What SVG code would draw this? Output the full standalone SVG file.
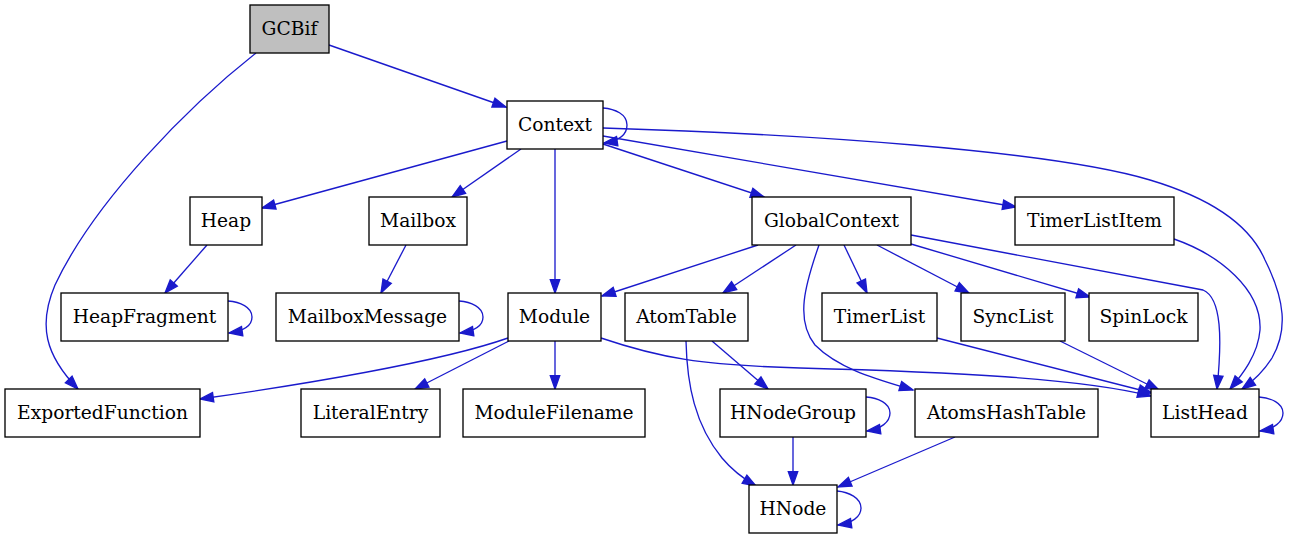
<svg xmlns="http://www.w3.org/2000/svg" width="1289" height="539" viewBox="0 0 1289 539">
<style>
.n rect{fill:#fff;stroke:#000;stroke-width:1.33}
.n text{font-family:"DejaVu Serif",serif;font-size:18.67px;text-anchor:middle;fill:#000}
.e path{fill:none;stroke:#1a1acc;stroke-width:1.33;marker-end:url(#ah)}
</style>
<defs>
<marker id="ah" markerUnits="userSpaceOnUse" markerWidth="16" markerHeight="12" refX="13.3" refY="4.7" orient="auto" overflow="visible">
<path d="M0,0 L13.3,4.7 L0,9.4 z" fill="#1a1acc" stroke="#1a1acc" stroke-width="1.33"/>
</marker>
</defs>
<rect width="1289" height="539" fill="#fff"/>
<g class="e" id="edges">
<path d="M329,45 L506,107"/>
<path d="M256,53 C190,105 95,200 55,285 C38,325 45,355 78,389"/>
<path d="M603,108 C615,109 627,114 627,125 C627,135 618,141 604,143"/>
<path d="M507,141 L262,208"/>
<path d="M521,149 L452,197"/>
<path d="M555,149 L555,293"/>
<path d="M603,144 L764,197"/>
<path d="M603,136 L1016,207"/>
<path d="M603,128 C800,134 1050,150 1150,180 C1210,198 1250,225 1265,260 C1285,300 1288,330 1272,358 C1263,372 1252,382 1242,389"/>
<path d="M207,245 L165,293"/>
<path d="M406,245 L381,293"/>
<path d="M228,301 C240,302 252,307 252,317 C252,326 243,331 229,333"/>
<path d="M459,301 C471,302 483,307 483,317 C483,326 474,331 460,333"/>
<path d="M758,245 L602,296"/>
<path d="M796,245 L723,293"/>
<path d="M819,245 C805,285 795,320 815,345 C840,370 880,380 913,390"/>
<path d="M844,245 L867,293"/>
<path d="M877,245 L969,293"/>
<path d="M911,244 L1090,297"/>
<path d="M911,235 C1000,252 1150,280 1203,290 C1222,298 1222,340 1217,389"/>
<path d="M1174,239 C1220,255 1262,290 1260,330 C1258,355 1242,375 1230,389"/>
<path d="M508,338 C440,362 300,385 200,399"/>
<path d="M509,341 L415,389"/>
<path d="M555,341 L555,389"/>
<path d="M601,338 C660,358 700,365 800,368 C950,372 1080,378 1151,396"/>
<path d="M712,341 L768,389"/>
<path d="M686,341 C687,385 695,425 722,458 C732,470 744,479 756,486"/>
<path d="M937,338 L1152,393"/>
<path d="M1060,341 L1159,390"/>
<path d="M866,397 C878,398 890,403 890,413 C890,422 881,429 867,431"/>
<path d="M793,437 L793,485"/>
<path d="M955,437 L838,487"/>
<path d="M1259,397 C1271,398 1283,403 1283,413 C1283,422 1274,429 1260,431"/>
<path d="M837,491 C849,492 861,498 861,508 C861,517 852,523 838,525"/>
</g>
<g class="n" id="GCBif"><rect x="250" y="5" width="79" height="48" style="fill:#bfbfbf"/><text x="289.5" y="35">GCBif</text></g>
<g class="n" id="Context"><rect x="507" y="101" width="96" height="48"/><text x="555" y="131">Context</text></g>
<g class="n" id="Heap"><rect x="190" y="197" width="72" height="48"/><text x="226" y="227">Heap</text></g>
<g class="n" id="Mailbox"><rect x="369" y="197" width="98" height="48"/><text x="418" y="227">Mailbox</text></g>
<g class="n" id="GlobalContext"><rect x="752" y="197" width="159" height="48"/><text x="831.5" y="227">GlobalContext</text></g>
<g class="n" id="TimerListItem"><rect x="1015" y="197" width="159" height="48"/><text x="1094.5" y="227">TimerListItem</text></g>
<g class="n" id="HeapFragment"><rect x="61" y="293" width="167" height="48"/><text x="144.5" y="323">HeapFragment</text></g>
<g class="n" id="MailboxMessage"><rect x="276" y="293" width="183" height="48"/><text x="367.5" y="323">MailboxMessage</text></g>
<g class="n" id="Module"><rect x="508" y="293" width="93" height="48"/><text x="554.5" y="323">Module</text></g>
<g class="n" id="AtomTable"><rect x="625" y="293" width="123" height="48"/><text x="686.5" y="323">AtomTable</text></g>
<g class="n" id="TimerList"><rect x="822" y="293" width="115" height="48"/><text x="879.5" y="323">TimerList</text></g>
<g class="n" id="SyncList"><rect x="961" y="293" width="104" height="48"/><text x="1013" y="323">SyncList</text></g>
<g class="n" id="SpinLock"><rect x="1089" y="293" width="109" height="48"/><text x="1143.5" y="323">SpinLock</text></g>
<g class="n" id="ExportedFunction"><rect x="5" y="389" width="195" height="48"/><text x="102.5" y="419">ExportedFunction</text></g>
<g class="n" id="LiteralEntry"><rect x="301" y="389" width="139" height="48"/><text x="370.5" y="419">LiteralEntry</text></g>
<g class="n" id="ModuleFilename"><rect x="463" y="389" width="182" height="48"/><text x="554" y="419">ModuleFilename</text></g>
<g class="n" id="HNodeGroup"><rect x="720" y="389" width="146" height="48"/><text x="793" y="419">HNodeGroup</text></g>
<g class="n" id="AtomsHashTable"><rect x="915" y="389" width="183" height="48"/><text x="1006.5" y="419">AtomsHashTable</text></g>
<g class="n" id="ListHead"><rect x="1151" y="389" width="108" height="48"/><text x="1205" y="419">ListHead</text></g>
<g class="n" id="HNode"><rect x="749" y="485" width="88" height="48"/><text x="793" y="515">HNode</text></g>
</svg>
